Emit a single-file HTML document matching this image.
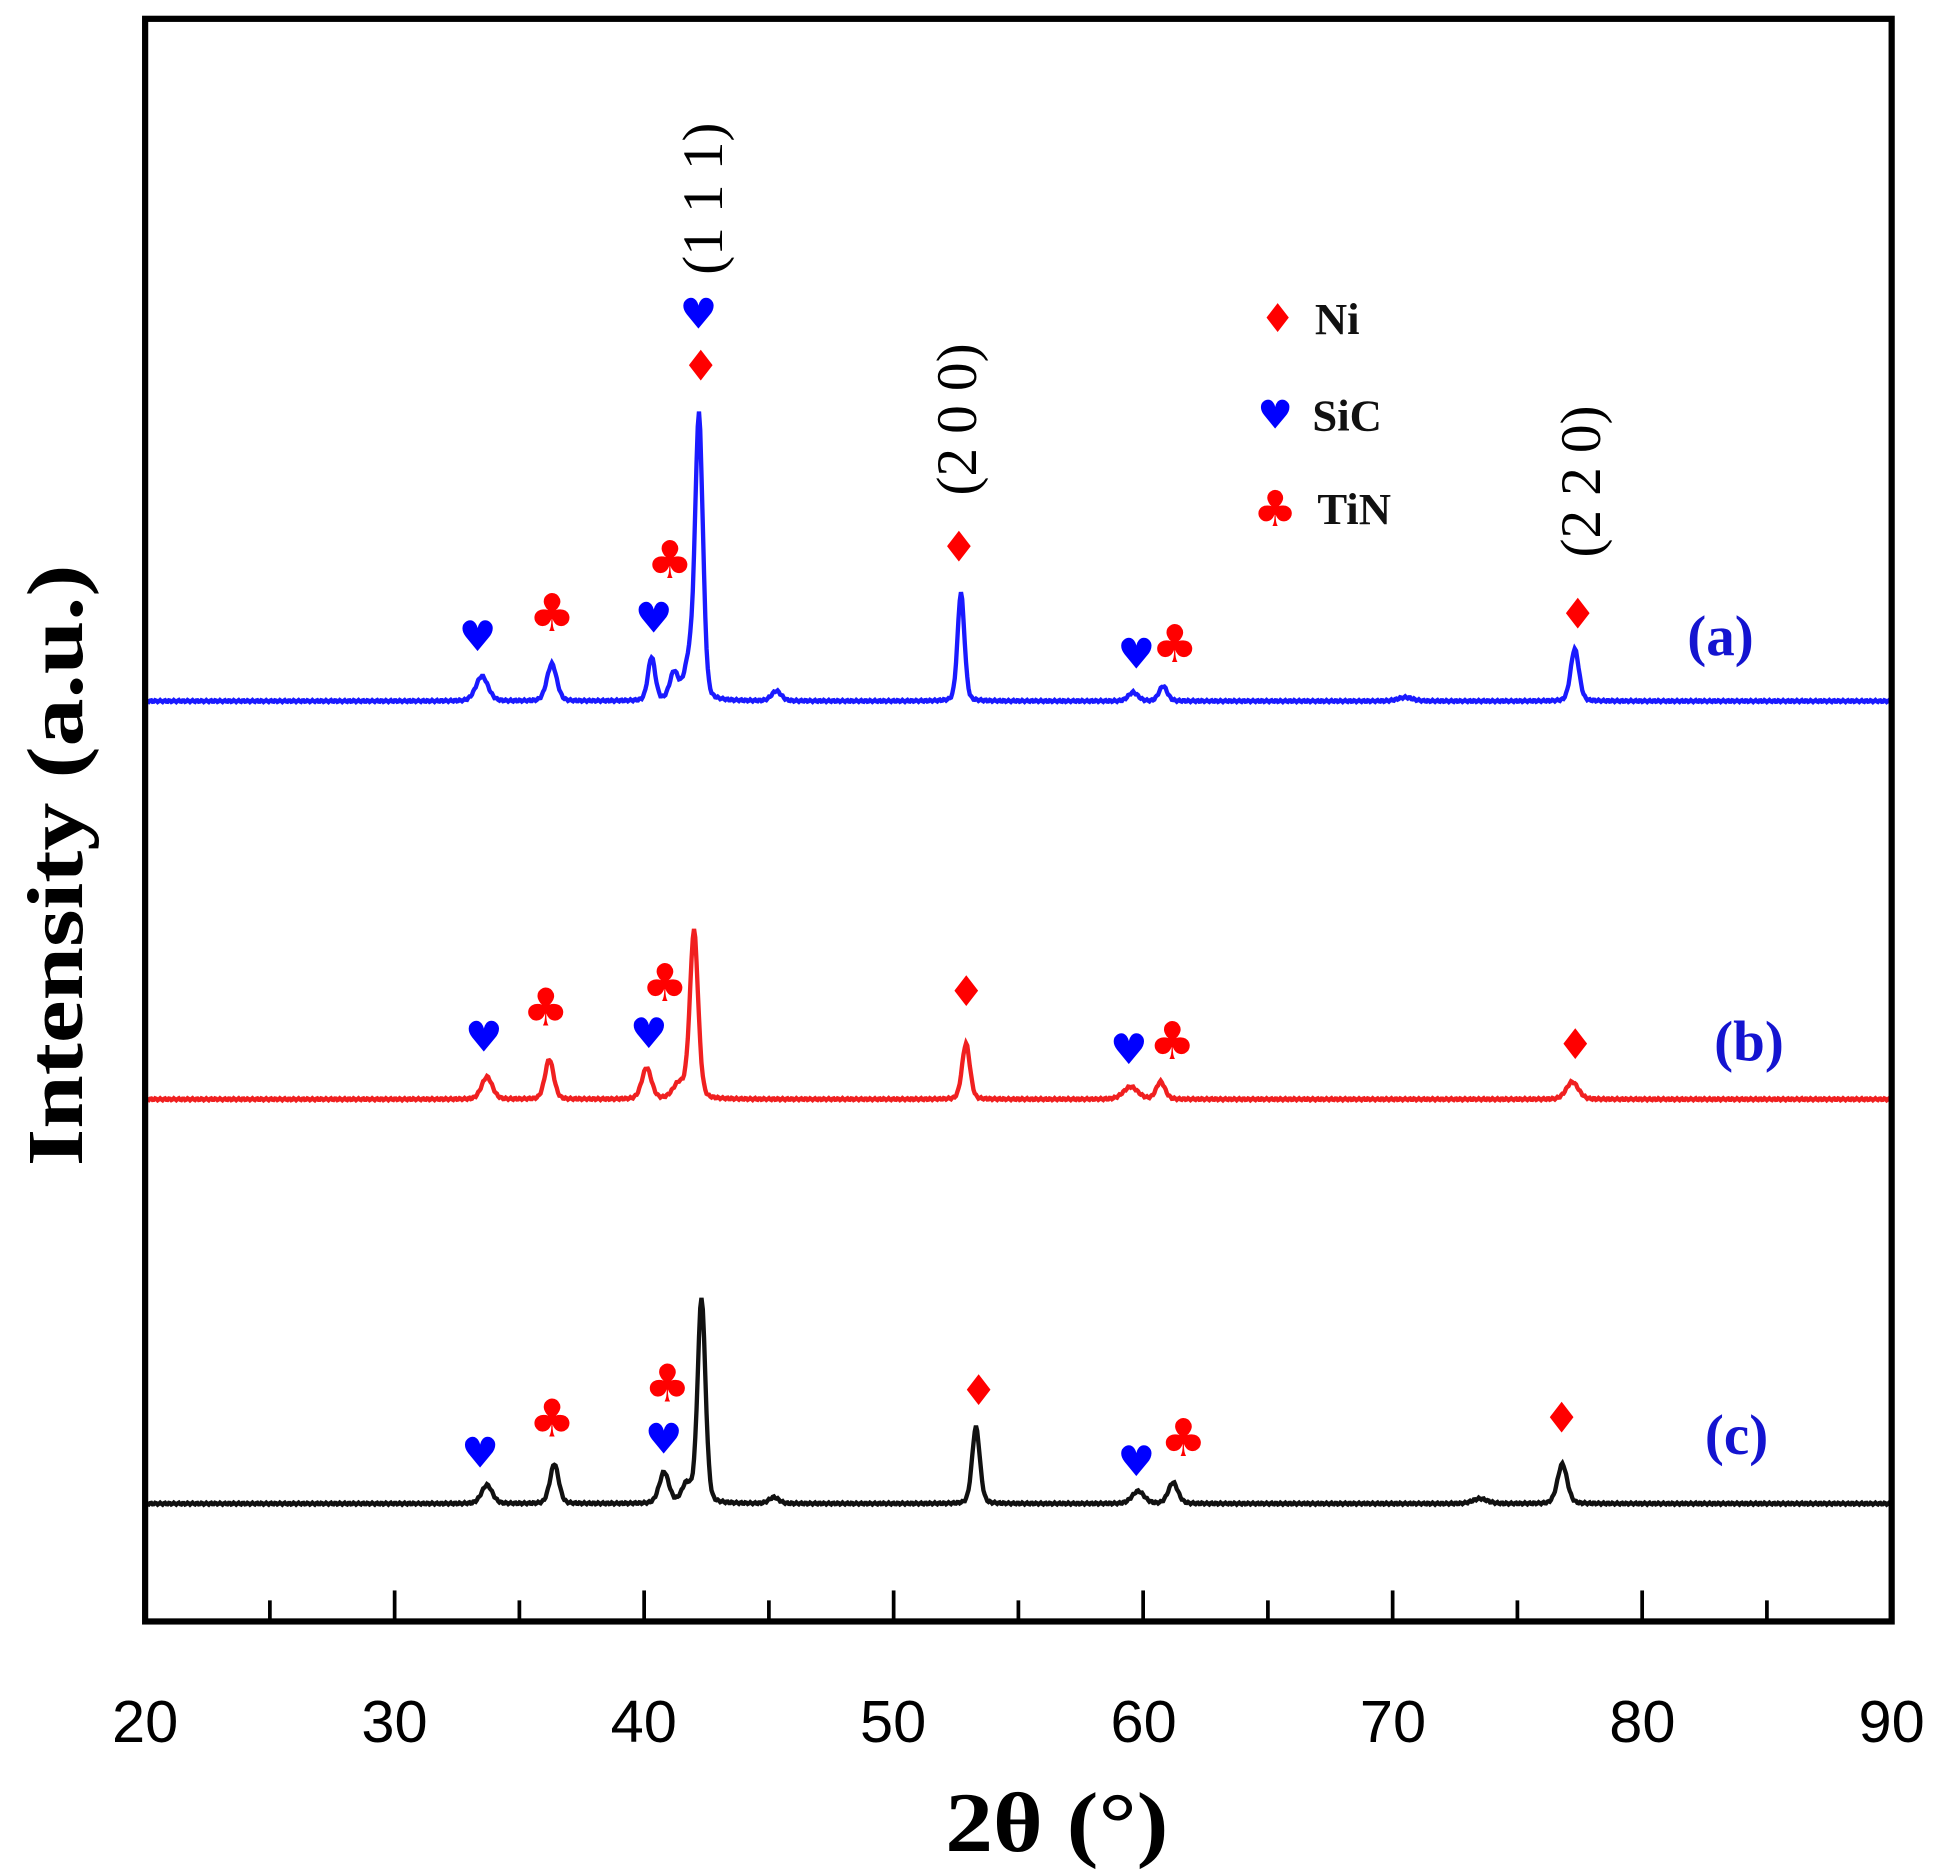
<!DOCTYPE html>
<html><head><meta charset="utf-8"><style>
html,body{margin:0;padding:0;background:#fff;}
svg{display:block;}
.m{font-family:"DejaVu Sans",sans-serif;font-size:36px;text-anchor:middle;dominant-baseline:central;}
.r{fill:#f00;} .b{fill:#00f;}
.hkl{font-family:"Liberation Serif",serif;font-size:46px;text-anchor:middle;dominant-baseline:central;}
.lab{font-family:"Liberation Serif",serif;font-weight:bold;font-size:46px;fill:#1414d0;text-anchor:middle;dominant-baseline:central;}
.leg{font-family:"Liberation Serif",serif;font-weight:bold;font-size:36px;fill:#111;dominant-baseline:central;}
</style></head><body>
<svg id="s" width="1945" height="1871" viewBox="0 0 1568 1508" xmlns="http://www.w3.org/2000/svg">
<rect x="0" y="0" width="1568" height="1508" fill="#fff"/>
<path id="pa" fill="none" stroke="#1a1aff" stroke-width="3.5"/>
<path id="pb" fill="none" stroke="#f02020" stroke-width="3.5"/>
<path id="pc" fill="none" stroke="#111" stroke-width="3.5"/>
<rect x="117" y="15" width="1408" height="1292" fill="none" stroke="#000" stroke-width="5"/>
<g id="ticks" stroke="#000" stroke-width="3"></g>
<g font-family="Liberation Sans, sans-serif" font-size="48" text-anchor="middle">
<text x="117" y="1404">20</text>
<text x="318" y="1404">30</text>
<text x="519" y="1404">40</text>
<text x="720" y="1404">50</text>
<text x="922" y="1404">60</text>
<text x="1123" y="1404">70</text>
<text x="1324" y="1404">80</text>
<text x="1525" y="1404">90</text>
</g>
<text x="762" y="1492" font-family="Liberation Serif, serif" font-weight="bold" font-size="68" textLength="180" lengthAdjust="spacingAndGlyphs">2θ (°)</text>
<text transform="translate(66,940) rotate(-90)" font-family="Liberation Serif, serif" font-weight="bold" font-size="64" textLength="485" lengthAdjust="spacingAndGlyphs">Intensity (a.u.)</text>
<text class="hkl" transform="translate(567,160) rotate(-90)">(1 1 1)</text>
<text class="hkl" transform="translate(772,338) rotate(-90)">(2 0 0)</text>
<text class="hkl" transform="translate(1275,388) rotate(-90)">(2 2 0)</text>
<text class="lab" x="1387" y="513">(a)</text>
<text class="lab" x="1410" y="840">(b)</text>
<text class="lab" x="1400" y="1157">(c)</text>
<text class="m r" x="1030" y="257" style="font-size:32px">♦</text><text class="leg" x="1060" y="257">Ni</text>
<text class="m b" x="1028" y="335" style="font-size:32px">♥</text><text class="leg" x="1058" y="335">SiC</text>
<text class="m r" x="1028" y="410" style="font-size:40px">♣</text><text class="leg" x="1062" y="410">TiN</text>
<g id="marks"></g>
</svg>
<script>
var X=function(d){return 117+(d-20)*1408/70;};
function path(base,peaks){var s="";for(var i=0;i<=1400;i++){var d=20+i*0.05;var y=0;peaks.forEach(function(p){var w=p[2]||0.17;var t=(d-p[0])/w;y+=p[1]*(0.75*Math.exp(-t*t/2)+0.25/(1+t*t));});y+=Math.sin(i*1.7)*0.8;s+=(i?"L":"M")+X(d).toFixed(1)+" "+(base-y).toFixed(1);}return s;}
document.getElementById("pa").setAttribute("d",path(565,[[33.5,20,0.25],[36.3,30,0.2],[40.3,35,0.15],[41.2,22,0.18],[41.8,30,0.2],[42.2,228,0.16],[45.3,8,0.2],[52.7,88,0.14],[59.6,7,0.2],[60.8,12,0.17],[70.5,3,0.3],[77.3,42,0.17]]));
document.getElementById("pb").setAttribute("d",path(886,[[33.7,18,0.22],[36.2,32,0.18],[40.1,25,0.2],[41.4,12,0.25],[42.0,136,0.17],[52.9,45,0.16],[59.5,10,0.3],[60.7,14,0.18],[77.2,14,0.25]]));
document.getElementById("pc").setAttribute("d",path(1212,[[33.7,15,0.22],[36.4,32,0.18],[40.8,25,0.2],[41.7,15,0.2],[42.3,166,0.16],[45.2,5,0.2],[53.3,62,0.16],[59.8,10,0.25],[61.2,17,0.2],[73.5,4,0.3],[76.8,32,0.2]]));
var t="";for(var d=25;d<90;d+=5){var L=(d%10==0)?25:17;t+='<line x1="'+X(d)+'" x2="'+X(d)+'" y1="1307" y2="'+(1307-L)+'"/>';}
document.getElementById("ticks").innerHTML=t;
var M=[["b",385,513],["c",445,495],["b",527,498],["c",540,452],["b",563,253],["d",565,295],["d",773,441],["b",916,527],["c",947,520],["d",1272,495],
["b",390,836],["c",440,813],["b",523,833],["c",536,793],["d",779,799],["b",910,846],["c",945,840],["d",1270,842],
["b",387,1171],["c",445,1144],["b",535,1160],["c",538,1116],["d",789,1121],["b",916,1178],["c",954,1160],["d",1259,1143]];
var g="";M.forEach(function(m){var ch=m[0]=="b"?"♥":(m[0]=="c"?"♣":"♦");var cl=m[0]=="b"?"b":"r";var fs=m[0]=="c"?42:34;g+='<text class="m '+cl+'" x="'+m[1]+'" y="'+m[2]+'" style="font-size:'+fs+'px">'+ch+'</text>';});
document.getElementById("marks").innerHTML=g;
</script>
</body></html>
